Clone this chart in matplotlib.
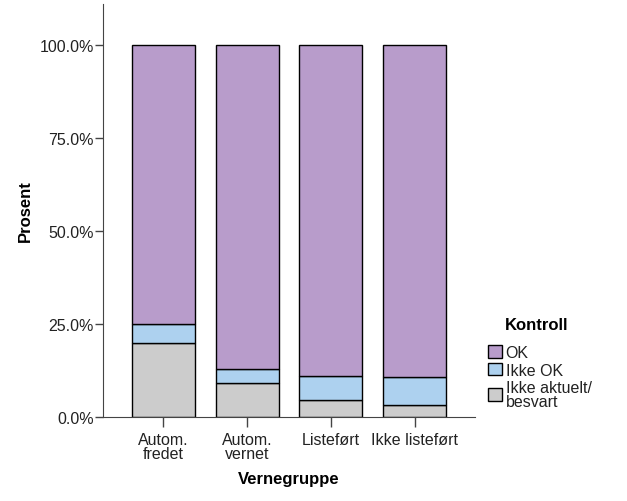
import matplotlib.pyplot as plt
import numpy as np
from matplotlib.patches import Patch

plt.rcParams['font.family'] = ['Liberation Sans', 'DejaVu Sans']

# data (percent)
categories = ['Autom.\nfredet', 'Autom.\nvernet', 'Listeført', 'Ikke listeført']
ikke_aktuelt = [19.8, 9.1, 4.6, 3.1]
ikke_ok = [5.3, 3.7, 6.3, 7.7]
ok = [100 - a - b for a, b in zip(ikke_aktuelt, ikke_ok)]
series_labels = ['Ikke aktuelt/\nbesvart', 'Ikke OK', 'OK']
colors = ['#cccccc', '#add1ef', '#b89ccb']

fig = plt.figure(figsize=(6.27, 5.02), dpi=100)
ax = fig.add_axes([103 / 627, 84 / 502, 372 / 627, 413 / 502])

x = np.arange(len(categories))
bottom = np.zeros(len(categories))
for vals, c in zip([ikke_aktuelt, ikke_ok, ok], colors):
    ax.bar(x, vals, width=0.75, bottom=bottom, color=c, edgecolor='black', linewidth=1.0)
    bottom += np.array(vals)

ax.set_xlim(-0.72, 3.72)
ax.set_ylim(0, 111)
ax.set_yticks([0, 25, 50, 75, 100])
ax.set_yticklabels(['0.0%', '25.0%', '50.0%', '75.0%', '100.0%'])
ax.set_xticks(x)
ax.set_xticklabels(categories, linespacing=0.95)
ax.tick_params(axis='both', labelsize=11.5, labelcolor='#222222', color='#444444',
               width=1)
ax.tick_params(axis='x', length=7, pad=3.5)
ax.tick_params(axis='y', length=5.5, pad=1)
ax.spines['top'].set_visible(False)
ax.spines['right'].set_visible(False)
for s in ['left', 'bottom']:
    ax.spines[s].set_color('#444444')

ax.set_xlabel('Vernegruppe', fontsize=12, fontweight='bold', labelpad=7)
ax.set_ylabel('Prosent', fontsize=12, fontweight='bold', labelpad=5)

fig.text(537 / 627, 1 - 326 / 502, 'Kontroll', fontsize=12, fontweight='bold',
         ha='center', va='center')
handles = [Patch(facecolor=c, edgecolor='black', linewidth=1.0) for c in colors[::-1]]
leg = fig.legend(handles, series_labels[::-1], loc='upper left',
                 bbox_to_anchor=(477 / 627, 1 - 335 / 502), frameon=False,
                 fontsize=11.5, handlelength=0.85, handleheight=0.85,
                 handletextpad=0.25, labelspacing=0.15, borderpad=0.2)
for t in leg.get_texts():
    t.set_linespacing(0.9)
    t.set_color('#222222')

fig.savefig('out.png', dpi=100)
